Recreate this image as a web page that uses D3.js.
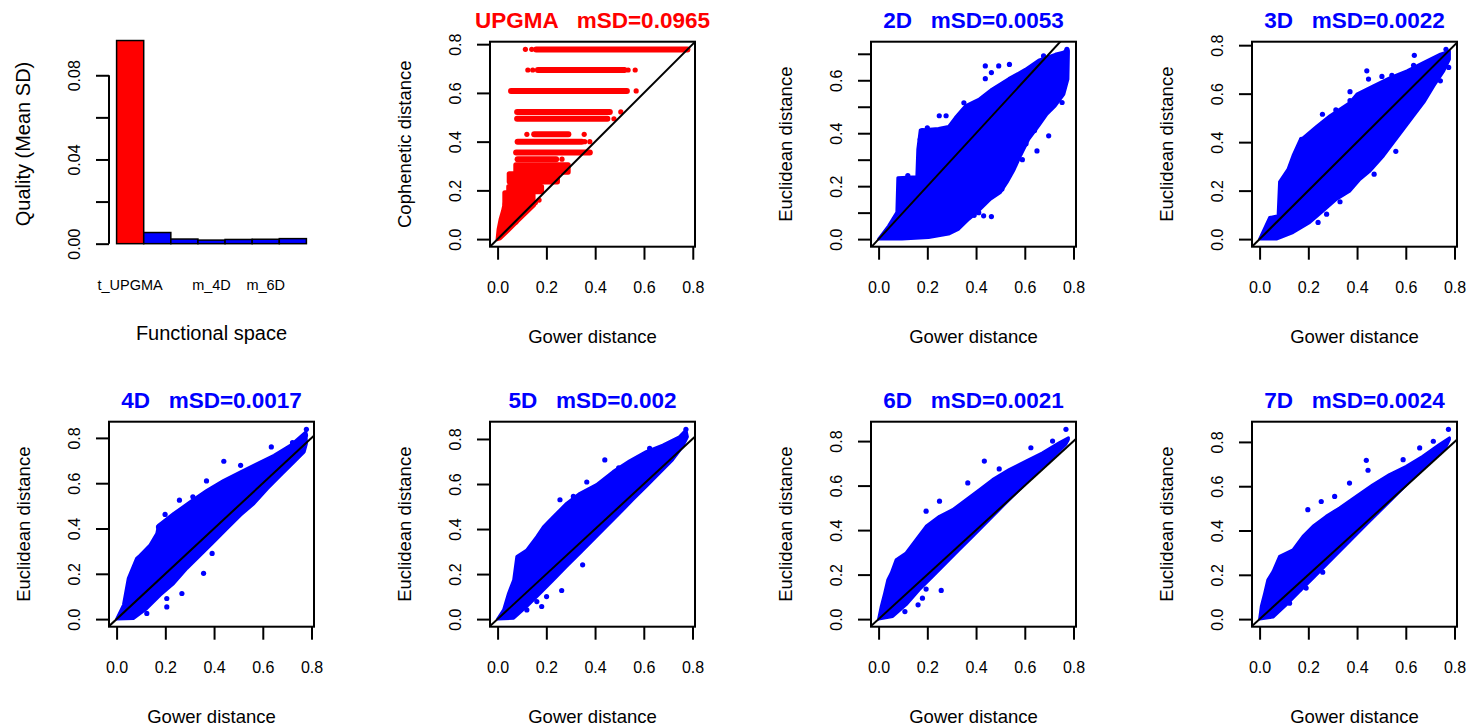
<!DOCTYPE html>
<html>
<head>
<meta charset="utf-8">
<script src="https://cdn.jsdelivr.net/npm/d3@7"></script>
<style>
body { margin: 0; background: #fff; }
text { font-family: "Liberation Sans", Arial, Helvetica, sans-serif; fill: #000; }
</style>
</head>
<body>
<svg id="fig" width="1470" height="726"></svg>
<script>
// ---- bar chart (quality of each functional space) ----
var barNames = ["t_UPGMA", "m_2D", "m_3D", "m_4D", "m_5D", "m_6D", "m_7D"];
var barValues = [0.0965, 0.0053, 0.0022, 0.0017, 0.002, 0.0021, 0.0024];
var barShownNames = ["t_UPGMA", "m_4D", "m_6D"]; // R drops the names that would overlap
var barTicks = [0, 0.02, 0.04, 0.06, 0.08];
var barTickLabels = ["0.00", "", "0.04", "", "0.08"];

// ---- scatter panels ----
var panelNames = ["UPGMA", "2D", "3D", "4D", "5D", "6D", "7D"];
var panelMSD = ["0.0965", "0.0053", "0.0022", "0.0017", "0.002", "0.0021", "0.0024"];
var xTicks = [0, 0.2, 0.4, 0.6, 0.8];
var yTicks = [0, 0.2, 0.4, 0.6, 0.8];
var yTicks2D = [0, 0.1, 0.2, 0.3, 0.4, 0.5, 0.6, 0.7];

// UPGMA: cophenetic levels [cophenetic, gower from, gower to]
var upgmaLevels = [
  [0.778, 0.158, 0.778], [0.694, 0.165, 0.52], [0.608, 0.055, 0.53],
  [0.522, 0.080, 0.46], [0.494, 0.080, 0.45], [0.430, 0.150, 0.29],
  [0.400, 0.082, 0.345], [0.355, 0.076, 0.378], [0.328, 0.082, 0.24]
];
// dense blocks [cophenetic lo, cophenetic hi, gower from, gower to]
var upgmaBlocks = [
  [0.275, 0.305, 0.075, 0.289], [0.235, 0.268, 0.048, 0.245],
  [0.195, 0.215, 0.046, 0.18], [0.145, 0.190, 0.030, 0.145]
];
// cloud near the origin [gower, cophenetic]
var upgmaWedge = [[0, 0], [0.004, 0.04], [0.012, 0.08], [0.022, 0.115], [0.03, 0.15], [0.15, 0.15],
  [0.15, 0.14], [0.08, 0.072], [0.04, 0.032], [0.01, 0.003]];
var upgmaPoints = [[0.114, 0.779], [0.140, 0.779], [0.124, 0.694], [0.144, 0.694], [0.535, 0.694],
  [0.564, 0.694], [0.568, 0.608], [0.505, 0.522], [0.477, 0.494], [0.12, 0.43], [0.355, 0.43],
  [0.357, 0.40], [0.378, 0.40], [0.264, 0.328], [0.075, 0.07], [0.17, 0.16], [0.155, 0.15]];

// Euclidean clouds: upper and lower edge [gower, euclidean], plus stray points
var upper2D = [[0, 0], [0.041, 0.05], [0.075, 0.101], [0.079, 0.232], [0.157, 0.236], [0.161, 0.34],
  [0.171, 0.412], [0.246, 0.418], [0.287, 0.425], [0.315, 0.459], [0.356, 0.503], [0.411, 0.528],
  [0.465, 0.566], [0.534, 0.606], [0.602, 0.641], [0.657, 0.676], [0.725, 0.698], [0.779, 0.711]];
var lower2D = [[0, 0], [0.096, 0.0], [0.205, 0.006], [0.287, 0.019], [0.329, 0.038], [0.37, 0.075],
  [0.411, 0.107], [0.459, 0.151], [0.5, 0.176], [0.527, 0.214], [0.554, 0.258], [0.582, 0.314],
  [0.616, 0.377], [0.657, 0.428], [0.691, 0.472], [0.725, 0.503], [0.76, 0.547], [0.777, 0.604], [0.779, 0.704]];
var stray2D = [[0.438, 0.654], [0.493, 0.654], [0.537, 0.66], [0.438, 0.606], [0.463, 0.629], [0.249, 0.466],
  [0.277, 0.466], [0.171, 0.377], [0.698, 0.39], [0.65, 0.333], [0.506, 0.189], [0.463, 0.085],
  [0.431, 0.088], [0.739, 0.535], [0.753, 0.516], [0.773, 0.717], [0.769, 0.708], [0.677, 0.692],
  [0.712, 0.66], [0.746, 0.635], [0.753, 0.578], [0.411, 0.1], [0.392, 0.09], [0.605, 0.36],
  [0.64, 0.41], [0.59, 0.3], [0.18, 0.41], [0.2, 0.42], [0.35, 0.515], [0.12, 0.24]];

var upper3D = [[0, 0], [0.041, 0.089], [0.076, 0.096], [0.082, 0.236], [0.117, 0.289], [0.137, 0.344],
  [0.165, 0.406], [0.234, 0.465], [0.289, 0.509], [0.371, 0.564], [0.399, 0.598], [0.467, 0.632],
  [0.536, 0.666], [0.605, 0.694], [0.674, 0.729], [0.742, 0.763], [0.779, 0.775]];
var lower3D = [[0, 0], [0.069, 0.0], [0.137, 0.027], [0.206, 0.069], [0.261, 0.117], [0.316, 0.165],
  [0.371, 0.199], [0.412, 0.247], [0.454, 0.282], [0.509, 0.344], [0.55, 0.399], [0.591, 0.454],
  [0.632, 0.509], [0.674, 0.564], [0.715, 0.632], [0.756, 0.694], [0.779, 0.742]];
var stray3D = [[0.44, 0.694], [0.635, 0.758], [0.632, 0.717], [0.447, 0.66], [0.502, 0.671], [0.543, 0.676],
  [0.371, 0.608], [0.371, 0.571], [0.258, 0.515], [0.313, 0.533], [0.172, 0.412], [0.199, 0.419],
  [0.529, 0.399], [0.559, 0.362], [0.478, 0.344], [0.47, 0.268], [0.33, 0.154], [0.275, 0.103],
  [0.24, 0.069], [0.742, 0.653], [0.776, 0.708], [0.765, 0.783]];

var upper4D = [[0, 0], [0.028, 0.062], [0.048, 0.18], [0.082, 0.268], [0.096, 0.282], [0.137, 0.327],
  [0.165, 0.378], [0.172, 0.415], [0.234, 0.466], [0.302, 0.518], [0.371, 0.569], [0.44, 0.613],
  [0.509, 0.65], [0.577, 0.687], [0.646, 0.723], [0.715, 0.768], [0.777, 0.827]];
var lower4D = [[0, 0], [0.069, 0.003], [0.124, 0.047], [0.179, 0.106], [0.234, 0.157], [0.289, 0.224],
  [0.344, 0.282], [0.399, 0.341], [0.454, 0.4], [0.509, 0.459], [0.564, 0.51], [0.619, 0.576],
  [0.674, 0.635], [0.729, 0.694], [0.77, 0.738], [0.779, 0.775]];
var stray4D = [[0.44, 0.697], [0.369, 0.61], [0.509, 0.679], [0.635, 0.76], [0.722, 0.779], [0.779, 0.838],
  [0.775, 0.812], [0.258, 0.525], [0.313, 0.54], [0.199, 0.462], [0.172, 0.407], [0.357, 0.202],
  [0.392, 0.29], [0.268, 0.113], [0.206, 0.091], [0.206, 0.054], [0.124, 0.025]];

var upper5D = [[0, 0], [0.0245, 0.041], [0.045, 0.115], [0.066, 0.174], [0.079, 0.278], [0.12, 0.307],
  [0.161, 0.366], [0.188, 0.41], [0.229, 0.455], [0.283, 0.514], [0.338, 0.559], [0.406, 0.597],
  [0.474, 0.655], [0.542, 0.703], [0.61, 0.744], [0.678, 0.773], [0.746, 0.81], [0.773, 0.84]];
var lower5D = [[0, 0], [0.066, 0.004], [0.12, 0.056], [0.175, 0.115], [0.229, 0.174], [0.283, 0.234],
  [0.338, 0.293], [0.392, 0.352], [0.446, 0.411], [0.501, 0.47], [0.555, 0.53], [0.61, 0.589],
  [0.664, 0.648], [0.718, 0.707], [0.759, 0.766], [0.779, 0.81]];
var stray5D = [[0.12, 0.041], [0.181, 0.056], [0.161, 0.078], [0.263, 0.127], [0.201, 0.1], [0.349, 0.241],
  [0.44, 0.707], [0.497, 0.672], [0.366, 0.609], [0.311, 0.545], [0.256, 0.53], [0.624, 0.758],
  [0.77, 0.82], [0.773, 0.843]];

var upper6D = [[0, 0], [0.011, 0.057], [0.025, 0.117], [0.038, 0.177], [0.052, 0.207], [0.072, 0.267],
  [0.113, 0.297], [0.154, 0.357], [0.195, 0.417], [0.25, 0.462], [0.304, 0.492], [0.359, 0.537],
  [0.414, 0.582], [0.468, 0.627], [0.536, 0.672], [0.605, 0.71], [0.673, 0.747], [0.741, 0.792], [0.779, 0.815]];
var lower6D = [[0, 0], [0.058, 0.012], [0.113, 0.065], [0.167, 0.132], [0.222, 0.192], [0.277, 0.252],
  [0.331, 0.312], [0.386, 0.372], [0.441, 0.432], [0.495, 0.492], [0.55, 0.552], [0.605, 0.612],
  [0.659, 0.672], [0.714, 0.725], [0.768, 0.785], [0.779, 0.807]];
var stray6D = [[0.434, 0.71], [0.495, 0.675], [0.25, 0.53], [0.195, 0.485], [0.366, 0.612], [0.625, 0.77],
  [0.769, 0.853], [0.714, 0.8], [0.257, 0.129], [0.162, 0.064], [0.108, 0.034], [0.127, 0.102],
  [0.14, 0.109], [0.18, 0.094], [0.195, 0.135]];

var upper7D = [[0, 0], [0.007, 0.057], [0.021, 0.117], [0.034, 0.178], [0.055, 0.215], [0.082, 0.283],
  [0.137, 0.313], [0.178, 0.374], [0.219, 0.419], [0.273, 0.464], [0.328, 0.502], [0.397, 0.555],
  [0.465, 0.607], [0.533, 0.653], [0.602, 0.69], [0.67, 0.735], [0.738, 0.788], [0.779, 0.818]];
var lower7D = [[0, 0], [0.055, 0.009], [0.109, 0.064], [0.164, 0.125], [0.219, 0.185], [0.273, 0.245],
  [0.328, 0.305], [0.383, 0.366], [0.437, 0.426], [0.492, 0.486], [0.547, 0.546], [0.602, 0.607],
  [0.656, 0.662], [0.711, 0.72], [0.766, 0.78], [0.779, 0.81]];
var stray7D = [[0.123, 0.072], [0.164, 0.135], [0.191, 0.14], [0.259, 0.212], [0.438, 0.717], [0.445, 0.672],
  [0.369, 0.614], [0.308, 0.554], [0.253, 0.531], [0.198, 0.494], [0.589, 0.72], [0.657, 0.773],
  [0.775, 0.857], [0.713, 0.803]];

// ---- layout ----
var boxSize = 205;
var colLeft = [109, 490, 871, 1252];
var rowTop = [41.7, 421.7];
var RED = "#ff0000", BLUE = "#0000ff";
var dotR = 2.6;
var tickFont = 16;

var svg = d3.select("#fig");

// R extends each axis range by 4% on both sides
function rExt(lo, hi) {
  var d = (hi - lo) * 0.04;
  return [lo - d, hi + d];
}

// y labels parallel to the axis, like R's default las=0
function styleLeftAxis(g) {
  g.select(".domain").remove();
  g.selectAll(".tick line").attr("stroke-width", 2);
  g.selectAll(".tick text")
    .attr("transform", "rotate(-90)")
    .attr("x", 0).attr("y", -29.5).attr("dy", 0)
    .attr("text-anchor", "middle")
    .style("font-size", tickFont + "px");
}

function styleBottomAxis(g) {
  g.select(".domain").remove();
  g.selectAll(".tick line").attr("stroke-width", 2);
  g.selectAll(".tick text").style("font-size", tickFont + "px");
}

// ---- panel 1: barplot ----
(function drawBars() {
  var left = colLeft[0];
  var x = d3.scaleLinear().domain(rExt(0, barNames.length)).range([left, left + boxSize]);
  var y = d3.scaleLinear().domain(rExt(0, d3.max(barValues))).range([251.8, 32.4]);
  var g = svg.append("g");

  g.selectAll("rect.bar").data(barValues).enter().append("rect")
    .attr("class", "bar")
    .attr("x", function(d, i) { return x(i); })
    .attr("width", function(d, i) { return x(i + 1) - x(i); })
    .attr("y", function(d) { return y(d); })
    .attr("height", function(d) { return y(0) - y(d); })
    .attr("fill", function(d, i) { return i === 0 ? RED : BLUE; })
    .attr("stroke", "#000").attr("stroke-width", 1.5);

  var ax = g.append("g").attr("transform", "translate(" + left + ",0)")
    .call(d3.axisLeft(y).tickValues(barTicks).tickSize(13)
      .tickFormat(function(d, i) { return barTickLabels[i]; }));
  styleLeftAxis(ax);
  g.append("line")
    .attr("x1", left).attr("x2", left)
    .attr("y1", y(barTicks[0])).attr("y2", y(barTicks[barTicks.length - 1]))
    .attr("stroke", "#000").attr("stroke-width", 2);

  g.selectAll("text.bname").data(barNames).enter()
    .filter(function(d) { return barShownNames.indexOf(d) >= 0; })
    .append("text").attr("class", "bname")
    .attr("x", function(d) { return x(barNames.indexOf(d) + 0.5); })
    .attr("y", 290)
    .attr("text-anchor", "middle")
    .style("font-size", "14.5px")
    .text(function(d) { return d; });

  g.append("text")
    .attr("x", left + boxSize / 2).attr("y", 340)
    .attr("text-anchor", "middle").style("font-size", "20px")
    .text("Functional space");
  g.append("text")
    .attr("transform", "translate(" + (left - 79) + "," + 144 + ") rotate(-90)")
    .attr("text-anchor", "middle").style("font-size", "20px")
    .text("Quality (Mean SD)");
})();

// ---- scatter panels ----
function drawScatter(idx, row, col, color, ylab, allPts, yTickVals, drawMarks) {
  var left = colLeft[col], top = rowTop[row];
  var x = d3.scaleLinear()
    .domain(rExt(0, d3.max(allPts, function(d) { return d[0]; })))
    .range([left, left + boxSize]);
  var y = d3.scaleLinear()
    .domain(rExt(0, d3.max(allPts, function(d) { return d[1]; })))
    .range([top + boxSize, top]);
  var g = svg.append("g");

  var clipId = "clip" + idx;
  g.append("clipPath").attr("id", clipId).append("rect")
    .attr("x", left).attr("y", top).attr("width", boxSize).attr("height", boxSize);
  var plot = g.append("g").attr("clip-path", "url(#" + clipId + ")");

  drawMarks(plot, x, y);

  // 1:1 line
  var xd = x.domain();
  plot.append("line")
    .attr("x1", x(xd[0])).attr("y1", y(xd[0]))
    .attr("x2", x(1)).attr("y2", y(1))
    .attr("stroke", "#000").attr("stroke-width", 2);

  g.append("rect")
    .attr("x", left).attr("y", top).attr("width", boxSize).attr("height", boxSize)
    .attr("fill", "none").attr("stroke", "#000").attr("stroke-width", 2);

  var axB = g.append("g").attr("transform", "translate(0," + (top + boxSize) + ")")
    .call(d3.axisBottom(x).tickValues(xTicks).tickSize(13).tickPadding(22)
      .tickFormat(d3.format(".1f")));
  styleBottomAxis(axB);

  var axL = g.append("g").attr("transform", "translate(" + left + ",0)")
    .call(d3.axisLeft(y).tickValues(yTickVals).tickSize(13)
      .tickFormat(function(d, i) {
        return (yTickVals.length > 5 && i % 2 === 1) ? "" : d3.format(".1f")(d);
      }));
  styleLeftAxis(axL);

  g.append("text")
    .attr("x", left + boxSize / 2).attr("y", top + boxSize + 96)
    .attr("text-anchor", "middle").style("font-size", "18.5px")
    .text("Gower distance");
  g.append("text")
    .attr("transform", "translate(" + (left - 79) + "," + (top + boxSize / 2) + ") rotate(-90)")
    .attr("text-anchor", "middle").style("font-size", "18.5px")
    .text(ylab);

  g.append("text")
    .attr("x", left + boxSize / 2).attr("y", top - 14)
    .attr("text-anchor", "middle")
    .style("font-size", "22.5px").style("font-weight", "bold")
    .style("white-space", "pre")
    .style("fill", color)
    .text(panelNames[idx] + "   mSD=" + panelMSD[idx]);
}

function cloudMarks(upper, lower, stray, color) {
  return function(plot, x, y) {
    var line = d3.line().x(function(d) { return x(d[0]); }).y(function(d) { return y(d[1]); });
    plot.append("path")
      .attr("d", line(upper.concat(lower.slice().reverse())) + "Z")
      .attr("fill", color).attr("stroke", color)
      .attr("stroke-width", 3).attr("stroke-linejoin", "round");
    plot.selectAll("circle.stray").data(stray).enter().append("circle")
      .attr("class", "stray")
      .attr("cx", function(d) { return x(d[0]); })
      .attr("cy", function(d) { return y(d[1]); })
      .attr("r", dotR).attr("fill", color);
  };
}

// UPGMA panel
(function() {
  var pts = [];
  upgmaLevels.forEach(function(d) { pts.push([d[1], d[0]], [d[2], d[0]]); });
  upgmaBlocks.forEach(function(d) { pts.push([d[2], d[0]], [d[3], d[1]]); });
  pts = pts.concat(upgmaWedge, upgmaPoints);

  drawScatter(0, 0, 1, RED, "Cophenetic distance", pts, yTicks, function(plot, x, y) {
    var line = d3.line().x(function(d) { return x(d[0]); }).y(function(d) { return y(d[1]); });
    plot.append("path").attr("d", line(upgmaWedge) + "Z")
      .attr("fill", RED).attr("stroke", RED).attr("stroke-width", 4).attr("stroke-linejoin", "round");
    plot.selectAll("line.level").data(upgmaLevels).enter().append("line")
      .attr("class", "level")
      .attr("x1", function(d) { return x(d[1]); }).attr("x2", function(d) { return x(d[2]); })
      .attr("y1", function(d) { return y(d[0]); }).attr("y2", function(d) { return y(d[0]); })
      .attr("stroke", RED).attr("stroke-width", 6).attr("stroke-linecap", "round");
    plot.selectAll("rect.block").data(upgmaBlocks).enter().append("rect")
      .attr("class", "block")
      .attr("x", function(d) { return x(d[2]) - dotR; })
      .attr("width", function(d) { return x(d[3]) - x(d[2]) + dotR * 2; })
      .attr("y", function(d) { return y(d[1]) - dotR; })
      .attr("height", function(d) { return y(d[0]) - y(d[1]) + dotR * 2; })
      .attr("rx", dotR).attr("fill", RED);
    plot.selectAll("circle.pt").data(upgmaPoints).enter().append("circle")
      .attr("class", "pt")
      .attr("cx", function(d) { return x(d[0]); }).attr("cy", function(d) { return y(d[1]); })
      .attr("r", dotR).attr("fill", RED);
  });
})();

var clouds = [
  [upper2D, lower2D, stray2D],
  [upper3D, lower3D, stray3D],
  [upper4D, lower4D, stray4D],
  [upper5D, lower5D, stray5D],
  [upper6D, lower6D, stray6D],
  [upper7D, lower7D, stray7D]
];
clouds.forEach(function(c, i) {
  var idx = i + 1;
  var row = idx < 3 ? 0 : 1;
  var col = idx < 3 ? idx + 1 : idx - 3;
  drawScatter(idx, row, col, BLUE, "Euclidean distance", c[0].concat(c[1], c[2]),
    idx === 1 ? yTicks2D : yTicks, cloudMarks(c[0], c[1], c[2], BLUE));
});
</script>
</body>
</html>
